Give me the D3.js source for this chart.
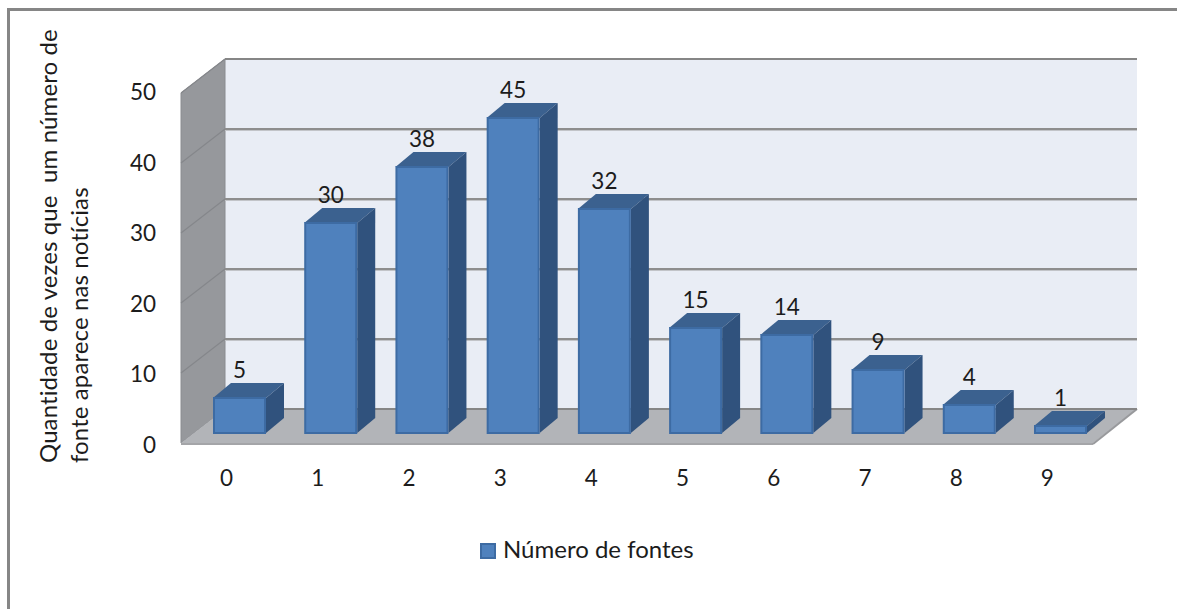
<!DOCTYPE html>
<html>
<head>
<meta charset="utf-8">
<script src="https://cdn.jsdelivr.net/npm/d3@7"></script>
<style>
	html, body { margin: 0; padding: 0; background: #fff; }
	svg { display: block; }
	text { font-family: Lato, "Open Sans", sans-serif; fill: #1c1c1c; }
</style>
</head>
<body>
<div id="chart"></div>
<script>
const categories = ["0", "1", "2", "3", "4", "5", "6", "7", "8", "9"];
const values = [5, 30, 38, 45, 32, 15, 14, 9, 4, 1];
const yTicks = [0, 10, 20, 30, 40, 50];
const yTitleLines = ["Quantidade de vezes que  um número de", "fonte aparece nas notícias"];
const legendLabel = "Número de fontes";

const w = 1177;
const h = 609;

// plot box: front edge of the floor, and how far the walls recede
const frontLeft = 181;
const frontRight = 1093;
const wallDx = 44;
const wallDy = -34;
const barDx = 18;
const barDy = -15;

const digitSize = 22.5;
const labelSize = 24;

const svg = d3.select("#chart").append("svg").attr("width", w).attr("height", h);

// axis position on the front plane, wall position on the back plane, bars in between
const yFront = d3.scaleLinear().domain([0, 50]).range([443, 93]);
const yBar = d3.scaleLinear().domain([0, 50]).range([433, 83]);
const yLabel = d3.scaleLinear().domain([0, 50]).range([445, 92]);
const xAxisScale = d3.scaleBand().domain(categories).range([frontLeft, frontRight]);
const xBar = d3
	.scaleBand()
	.domain(categories)
	.range([213, 1087])
	.paddingInner(0.419);

const poly = (pts) => pts.map((p) => p.join(",")).join(" ");

// chart frame, only the top and left sides are visible
svg
	.append("path")
	.attr("d", `M8.5,${h} V9.5 H${w}`)
	.attr("fill", "none")
	.attr("stroke", "#868686")
	.attr("stroke-width", 3);

const y0 = yFront(0);
const yTop = yFront(50);

// back wall
svg
	.append("rect")
	.attr("x", frontLeft + wallDx)
	.attr("y", yTop + wallDy)
	.attr("width", frontRight - frontLeft)
	.attr("height", y0 - yTop)
	.attr("fill", "#e9edf5");

// left wall
svg
	.append("polygon")
	.attr(
		"points",
		poly([
			[frontLeft, yTop],
			[frontLeft + wallDx, yTop + wallDy],
			[frontLeft + wallDx, y0 + wallDy],
			[frontLeft, y0],
		])
	)
	.attr("fill", "#96989c")
	.attr("stroke", "#8a8c90");

// floor
svg
	.append("polygon")
	.attr(
		"points",
		poly([
			[frontLeft, y0],
			[frontLeft + wallDx, y0 + wallDy],
			[frontRight + wallDx, y0 + wallDy],
			[frontRight, y0],
		])
	)
	.attr("fill", "#b2b4b8");

svg
	.append("line")
	.attr("x1", frontLeft)
	.attr("x2", frontRight)
	.attr("y1", y0 + 1)
	.attr("y2", y0 + 1)
	.attr("stroke", "#a4a5a8")
	.attr("stroke-width", 2);

svg
	.append("line")
	.attr("x1", frontRight)
	.attr("y1", y0 + 1)
	.attr("x2", frontRight + wallDx)
	.attr("y2", y0 + wallDy)
	.attr("stroke", "#98999c")
	.attr("stroke-width", 2);

// gridlines across both walls
const grid = svg.append("g");
yTicks.forEach((t) => {
	const yb = yFront(t) + wallDy;
	const isTop = t === 50;
	const isFloor = t === 0;
	if (!isFloor) {
		grid
			.append("line")
			.attr("x1", frontLeft)
			.attr("y1", yFront(t))
			.attr("x2", frontLeft + wallDx)
			.attr("y2", yb)
			.attr("stroke", "#85878b")
			.attr("stroke-width", 1.2);
	}
	grid
		.append("line")
		.attr("x1", frontLeft + wallDx)
		.attr("x2", frontRight + wallDx)
		.attr("y1", yb)
		.attr("y2", yb)
		.attr("stroke", isTop || isFloor ? "#868686" : "#8e8e8e")
		.attr("stroke-width", 2);
	if (!isTop && !isFloor) {
		grid
			.append("line")
			.attr("x1", frontLeft + wallDx)
			.attr("x2", frontRight + wallDx)
			.attr("y1", yb + 1.5)
			.attr("y2", yb + 1.5)
			.attr("stroke", "#c2c4c8")
			.attr("stroke-width", 1);
	}
});

// bars
const bars = svg
	.selectAll("g.bar")
	.data(values)
	.enter()
	.append("g")
	.attr("class", "bar");

bars
	.append("polygon")
	.attr("points", (d, i) => {
		const x = xBar(categories[i]);
		const bw = xBar.bandwidth();
		const t = yBar(d);
		return poly([
			[x, t],
			[x + barDx, t + barDy],
			[x + bw + barDx, t + barDy],
			[x + bw, t],
		]);
	})
	.attr("fill", "#3b618f");

bars
	.append("polygon")
	.attr("points", (d, i) => {
		const x = xBar(categories[i]) + xBar.bandwidth();
		const t = yBar(d);
		const b = yBar(0);
		return poly([
			[x, t],
			[x + barDx, t + barDy],
			[x + barDx, b + barDy],
			[x, b],
		]);
	})
	.attr("fill", "#30527d");

bars
	.append("rect")
	.attr("x", (d, i) => xBar(categories[i]) + 1)
	.attr("y", (d) => yBar(d))
	.attr("width", xBar.bandwidth() - 2)
	.attr("height", (d) => yBar(0) - yBar(d))
	.attr("fill", "#4f81bd")
	.attr("stroke", "#3d6ba3")
	.attr("stroke-width", 2);

// value labels above the bars
bars
	.append("text")
	.attr("x", (d, i) => xBar(categories[i]) + xBar.bandwidth() / 2)
	.attr("y", (d) => yBar(d) + barDy - 5)
	.attr("text-anchor", "middle")
	.attr("font-size", digitSize)
	.text((d) => d);

// value axis labels
svg
	.append("g")
	.selectAll("text")
	.data(yTicks)
	.enter()
	.append("text")
	.attr("x", 156)
	.attr("y", (d) => yLabel(d) + 8)
	.attr("text-anchor", "end")
	.attr("font-size", digitSize)
	.text((d) => d);

// category axis labels
svg
	.append("g")
	.selectAll("text")
	.data(categories)
	.enter()
	.append("text")
	.attr("x", (d) => xAxisScale(d) + xAxisScale.bandwidth() / 2)
	.attr("y", 486)
	.attr("text-anchor", "middle")
	.attr("font-size", digitSize)
	.text((d) => d);

// rotated value axis title
svg
	.append("g")
	.selectAll("text")
	.data(yTitleLines)
	.enter()
	.append("text")
	.attr("transform", (d, i) => `translate(${57 + i * 31},463) rotate(-90)`)
	.attr("font-size", labelSize)
	.style("white-space", "pre")
	.style("letter-spacing", "0.1px")
	.text((d) => d);

// legend
svg
	.append("rect")
	.attr("x", 481)
	.attr("y", 544)
	.attr("width", 14)
	.attr("height", 14)
	.attr("fill", "#4f81bd")
	.attr("stroke", "#3d6ba3")
	.attr("stroke-width", 2);

svg
	.append("text")
	.attr("x", 503)
	.attr("y", 558)
	.attr("font-size", labelSize)
	.text(legendLabel);
</script>
</body>
</html>
